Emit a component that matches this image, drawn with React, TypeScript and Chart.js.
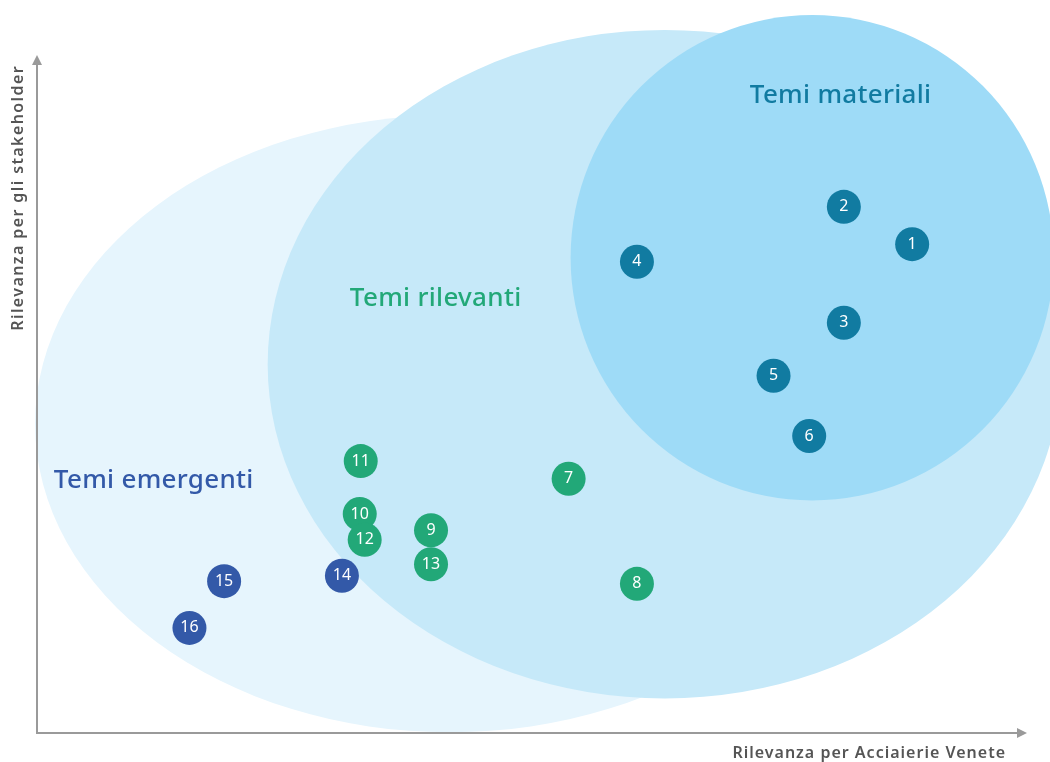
import React, { useEffect, useRef } from "react";
import { Chart, registerables } from "chart.js";

Chart.register(...registerables);

// Topic numbers and their positions (x: Rilevanza per Acciaierie Venete, y: Rilevanza per gli stakeholder)
const materialIds = ["1", "2", "3", "4", "5", "6"];
const materialX = [8.84, 8.15, 8.15, 6.06, 7.44, 7.80];
const materialY = [7.21, 7.76, 6.05, 6.95, 5.27, 4.38];

const relevantIds = ["7", "8", "9", "10", "11", "12", "13"];
const relevantX = [5.37, 6.06, 3.98, 3.26, 3.27, 3.31, 3.98];
const relevantY = [3.75, 2.20, 2.99, 3.23, 4.01, 2.85, 2.49];

const emergingIds = ["14", "15", "16"];
const emergingX = [3.08, 1.89, 1.54];
const emergingY = [2.32, 2.24, 1.55];

// Zones: centre x, centre y, radius x, radius y (data units)
const zoneNames = ["Temi emergenti", "Temi rilevanti", "Temi materiali"];
const zoneCx = [4.17, 6.34, 7.83];
const zoneCy = [4.56, 5.44, 7.01];
const zoneRx = [4.19, 4.01, 2.44];
const zoneRy = [4.55, 4.93, 3.58];
const zoneLabelX = [0.17, 3.16, 7.20];
const zoneLabelY = [3.72, 6.41, 9.40];

const xTitle = "Rilevanza per Acciaierie Venete";
const yTitle = "Rilevanza per gli stakeholder";

const COLORS = {
  zoneFill: ["#e6f5fd", "#c6e9f9", "#9edbf7"],
  zoneText: ["#3359a8", "#22a878", "#117ba1"],
  material: "#117ba1",
  relevant: "#22a878",
  emerging: "#3359a8",
  axis: "#9a9a9a",
  axisText: "#555555",
};

const FONT = "'Noto Sans', 'Open Sans', sans-serif";

function toPoints(xs: number[], ys: number[], ids: string[]) {
  return xs.map((x, i) => ({ x, y: ys[i], id: ids[i] }));
}

const zonesPlugin = {
  id: "zones",
  beforeDatasetsDraw(chart: any) {
    const { ctx, scales } = chart;
    const xs = scales.x;
    const ys = scales.y;
    ctx.save();
    for (let i = 0; i < zoneNames.length; i++) {
      const cx = xs.getPixelForValue(zoneCx[i]);
      const cy = ys.getPixelForValue(zoneCy[i]);
      const rx = Math.abs(xs.getPixelForValue(zoneCx[i] + zoneRx[i]) - cx);
      const ry = Math.abs(ys.getPixelForValue(zoneCy[i] + zoneRy[i]) - cy);
      ctx.beginPath();
      ctx.ellipse(cx, cy, rx, ry, 0, 0, Math.PI * 2);
      ctx.fillStyle = COLORS.zoneFill[i];
      ctx.fill();
    }
    // zone labels
    ctx.font = `500 26px ${FONT}`;
    (ctx as any).letterSpacing = "0.3px";
    ctx.textBaseline = "middle";
    ctx.textAlign = "left";
    for (let i = 0; i < zoneNames.length; i++) {
      ctx.fillStyle = COLORS.zoneText[i];
      ctx.fillText(
        zoneNames[i],
        xs.getPixelForValue(zoneLabelX[i]),
        ys.getPixelForValue(zoneLabelY[i])
      );
    }
    // axes
    const { left, right, top, bottom } = chart.chartArea;
    ctx.strokeStyle = COLORS.axis;
    ctx.fillStyle = COLORS.axis;
    ctx.lineWidth = 2;
    ctx.beginPath();
    ctx.moveTo(left, bottom);
    ctx.lineTo(left, top + 6);
    ctx.moveTo(left - 1, bottom);
    ctx.lineTo(right - 7, bottom);
    ctx.stroke();
    ctx.beginPath();
    ctx.moveTo(left, top);
    ctx.lineTo(left - 5, top + 10);
    ctx.lineTo(left + 5, top + 10);
    ctx.closePath();
    ctx.fill();
    ctx.beginPath();
    ctx.moveTo(right, bottom);
    ctx.lineTo(right - 10, bottom - 5);
    ctx.lineTo(right - 10, bottom + 5);
    ctx.closePath();
    ctx.fill();
    // axis titles
    ctx.fillStyle = COLORS.axisText;
    ctx.font = `600 16px ${FONT}`;
    ctx.textAlign = "right";
    ctx.textBaseline = "middle";
    (ctx as any).letterSpacing = "1px";
    ctx.fillText(xTitle, right - 21, bottom + 20);
    ctx.save();
    (ctx as any).letterSpacing = "1.4px";
    ctx.translate(left - 19, top + 10);
    ctx.rotate(-Math.PI / 2);
    ctx.textAlign = "right";
    ctx.fillText(yTitle, 0, 0);
    ctx.restore();
    (ctx as any).letterSpacing = "0px";
    ctx.restore();
  },
};

const pointLabelsPlugin = {
  id: "pointLabels",
  afterDatasetsDraw(chart: any) {
    const { ctx } = chart;
    ctx.save();
    ctx.fillStyle = "#ffffff";
    ctx.font = `400 16px ${FONT}`;
    ctx.textAlign = "center";
    ctx.textBaseline = "middle";
    chart.data.datasets.forEach((ds: any, di: number) => {
      const meta = chart.getDatasetMeta(di);
      meta.data.forEach((el: any, i: number) => {
        ctx.fillText(ds.data[i].id, el.x, el.y);
      });
    });
    ctx.restore();
  },
};

export default function App() {
  const ref = useRef<HTMLCanvasElement | null>(null);
  useEffect(() => {
    if (!ref.current) return;
    const mk = (data: any[], color: string) => ({
      data,
      backgroundColor: color,
      borderColor: color,
      pointRadius: 17,
      pointHoverRadius: 17,
      borderWidth: 0,
      clip: false as any,
    });
    const chart = new Chart(ref.current, {
      type: "scatter",
      data: {
        datasets: [
          mk(toPoints(materialX, materialY, materialIds), COLORS.material),
          mk(toPoints(relevantX, relevantY, relevantIds), COLORS.relevant),
          mk(toPoints(emergingX, emergingY, emergingIds), COLORS.emerging),
        ],
      },
      options: {
        responsive: false,
        animation: false,
        layout: { padding: { left: 37, right: 23, top: 55, bottom: 29 } },
        scales: {
          x: { type: "linear", min: 0, max: 10, display: false },
          y: { type: "linear", min: 0, max: 10, display: false },
        },
        plugins: {
          legend: { display: false },
          tooltip: { enabled: false },
        },
        events: [],
      },
      plugins: [zonesPlugin, pointLabelsPlugin],
    });
    return () => chart.destroy();
  }, []);
  return (
    <div style={{ position: "fixed", left: 0, top: 0, width: 1050, height: 762, background: "#ffffff" }}>
      <canvas ref={ref} width={1050} height={762} style={{ width: 1050, height: 762, display: "block" }} />
    </div>
  );
}
